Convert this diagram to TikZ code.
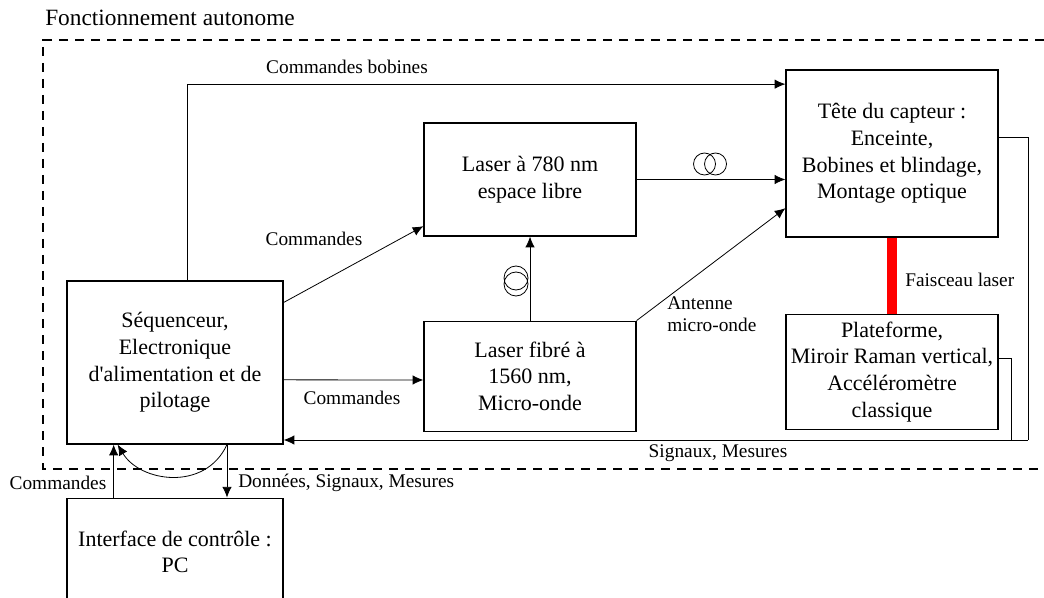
\documentclass[tikz,border=0pt]{standalone}
\usepackage{fontspec}
\setmainfont{Liberation Serif}
\usepackage{tikz}
\usetikzlibrary{arrows.meta}
\usetikzlibrary{positioning}
\definecolor{beam}{RGB}{255, 0, 0}
\tikzset{
    arrow/.style={-{Latex[length=8pt,width=7pt]}, line width=0.6pt},
    box/.style = {
      draw,
      line width=0.9pt,
      rectangle,
      align=center,
      inner sep=0pt,
      minimum width=159pt,
      font=\fontsize{16.5}{20}\selectfont
    },
    lbl/.style = {
      inner sep=0pt,
      font=\fontsize{14.5}{16.5}\selectfont
    },
    coil/.style = {line width=0.6pt},
}
\begin{document}
\begin{tikzpicture}[x=0.75pt, y=-0.75pt]
      \useasboundingbox (0,0) rectangle (1044,598);

      % autonomous operation frame
      \draw[dashed, line width=0.9pt, dash pattern=on 7pt off 5pt]
        (1044,40) -- (43,40) -- (43,469) -- (1044,469);
      \node [lbl, anchor=west, font=\fontsize{17.5}{20}\selectfont] (title) at (45,18) {Fonctionnement autonome};

      \node [box, minimum width=162pt, minimum height=122.25pt] (seq) at (175,362.5)
        {S\'equenceur,\\Electronique\\d\textquotesingle alimentation et de\\pilotage};

      \node [box, minimum height=84.75pt] (laserA) at (530,179.5)
        {Laser \`a 780 nm\\espace libre};

      \node [
        box,
        minimum height=82.5pt,
        below=63pt of laserA,
      ] (laserB) {Laser fibr\'e \`a\\1560 nm,\\Micro-onde};

      \node [box, minimum height=125.25pt] (head) at (892,153.5)
        {T\^ete du capteur :\\Enceinte,\\Bobines et blindage,\\Montage optique};

      \node [
        box,
        minimum height=86.25pt,
        below=57pt of head,
      ] (platform) {Plateforme,\\Miroir Raman vertical,\\Acc\'el\'erom\`etre\\classique};

      \node [
        box,
        minimum width=162pt,
        minimum height=80.25pt,
        below=39.75pt of seq,
      ] (pc) {Interface de contr\^ole :\\PC};

      % commands
      \draw[arrow] ([xshift=9pt]seq.north) |- ([yshift=52pt]head.west);
      \node [lbl] (cmdcoils) at (347,67) {Commandes bobines};
      \draw[arrow] ([yshift=45pt]seq.east) -- ([yshift=-35pt]laserA.west);
      \node [lbl] (cmdA) at (314,239) {Commandes};
      \draw[arrow] ([yshift=-13pt]seq.east) -- (laserB.west |- 0,380);
      \node [lbl] (cmdB) at (352,398) {Commandes};

      % fibres and microwave
      \draw[arrow] (laserB.north) -- (laserA.south);
      \draw[coil] (516,278) circle [radius=9pt] (516,284) circle [radius=9pt];
      \draw[arrow] (laserA.east) -- (laserA.east -| head.west);
      \draw[coil] (704.5,164) circle [radius=8.25pt] (715.5,164) circle [radius=8.25pt];
      \draw[arrow] (laserB.north east) -- ([yshift=-41pt]head.west);
      \node [lbl, anchor=west, align=left] (antenna) at (667,314) {Antenne\\micro-onde};

      % laser beam
      \draw[beam, line width=7.5pt] (head.south) -- (platform.north);
      \node [lbl, anchor=west] (beamlbl) at (905,280) {Faisceau laser};

      % signals back to the sequencer
      \coordinate (ret) at (1028,440);
      \coordinate (join) at (1011,440);
      \draw[line width=0.6pt] ([yshift=12pt]head.east) -| (ret);
      \draw[line width=0.6pt] ([yshift=10pt]platform.east) -| (join);
      \draw[arrow] (ret) -- (seq.east |- ret);
      \node [lbl] (signals) at (718,453) {Signaux, Mesures};

      % PC link
      \draw[arrow] ([xshift=-46pt]pc.north) -- ([xshift=-46pt]seq.south);
      \node [lbl] (cmdpc) at (58,483) {Commandes};
      \draw[arrow] ([xshift=39pt]seq.south) -- ([xshift=39pt]pc.north);
      \node [lbl, anchor=west] (data) at (238,483) {Donn\'ees, Signaux, Mesures};
      \draw[arrow] ([xshift=39pt]seq.south) .. controls (205,492) and (140,482) .. ([xshift=-43pt]seq.south);
    \end{tikzpicture}
\end{document}
